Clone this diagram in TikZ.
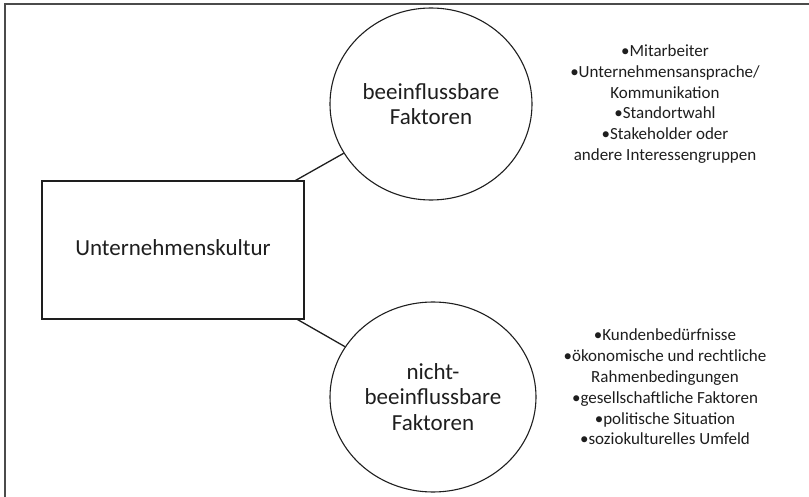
\documentclass[tikz,border=0pt]{standalone}
\usepackage{fontspec}
\setmainfont{Carlito}
\usetikzlibrary{shapes.geometric}
\definecolor{ink}{HTML}{1E1E1E}
\tikzset{
  shapeline/.style={draw=ink, line width=1.1pt},
  circ/.style={shapeline, ellipse, inner sep=0pt, align=center, text=ink, font=\fontsize{23}{25.5}\selectfont},
  factlist/.style={align=center, text=ink, inner sep=0pt, font=\fontsize{17}{20.8}\selectfont},
  conn/.style={draw=ink, line width=1.3pt},
}
\begin{document}
\begin{tikzpicture}[x=1pt,y=-1pt]
\useasboundingbox (0,0) rectangle (809,497);
\draw[draw=ink!80, line width=1.2pt] (5,497) -- (5,4) -- (809,4);
\node[shapeline, minimum width=262pt, minimum height=138pt, inner sep=0pt, text=ink, font=\fontsize{23}{25.5}\selectfont] (u) at (173,250) {\raisebox{4pt}{Unternehmenskultur}};
\node[circ, minimum width=202pt, minimum height=192pt] (c1) at (431,104) {beeinflussbare\\Faktoren};
\node[circ, minimum width=206pt, minimum height=190pt] (c2) at (433,397) {nicht-\\beeinflussbare\\Faktoren};
\draw[conn] ([xshift=-9pt]u.north east) -- (c1);
\draw[conn] ([xshift=-7pt]u.south east) -- (c2);
\node[factlist] (f1) at (665,104) {\textbullet Mitarbeiter\\\textbullet Unternehmensansprache/\\Kommunikation\\\textbullet Standortwahl\\\textbullet Stakeholder oder\\andere Interessengruppen};
\node[factlist] (f2) at (665,387) {\textbullet Kundenbedürfnisse\\\textbullet ökonomische und rechtliche\\Rahmenbedingungen\\\textbullet gesellschaftliche Faktoren\\\textbullet politische Situation\\\textbullet soziokulturelles Umfeld};
\end{tikzpicture}
\end{document}
